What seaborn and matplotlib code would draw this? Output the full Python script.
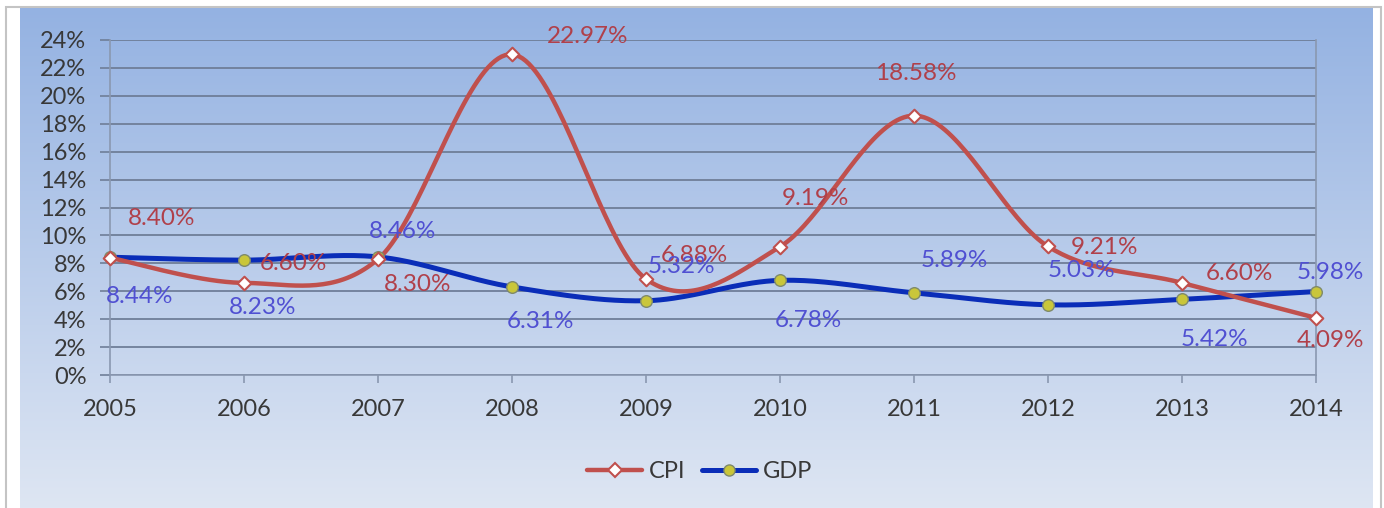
import numpy as np
import pandas as pd
import matplotlib
matplotlib.use("Agg")
import matplotlib.pyplot as plt
from matplotlib.lines import Line2D
from matplotlib.patches import Rectangle
from matplotlib.ticker import FuncFormatter
import seaborn as sns

# ---- data ----
years = [2005, 2006, 2007, 2008, 2009, 2010, 2011, 2012, 2013, 2014]
cpi = [8.40, 6.60, 8.30, 22.97, 6.88, 9.19, 18.58, 9.21, 6.60, 4.09]
gdp = [8.44, 8.23, 8.46, 6.31, 5.32, 6.78, 5.89, 5.03, 5.42, 5.98]
y_ticks = [0, 2, 4, 6, 8, 10, 12, 14, 16, 18, 20, 22, 24]

# label placement (pixel offsets from each point: right, up)
cpi_label_offsets = [(52, 39), (49, 19), (40, -25), (76, 18), (48, 23),
                     (35, 48), (2, 42), (56, -1), (57, 9), (14, -23)]
gdp_label_offsets = [(30, -39), (19, -47), (25, 25), (28, -35), (35, 34),
                     (28, -40), (40, 32), (33, 34), (32, -40), (14, 19)]

CPI_LINE = "#c0504d"
CPI_TEXT = "#b0404a"
GDP_LINE = "#0a2db8"
GDP_TEXT = "#5050d2"
GRID = "#6f7e98"
LABEL_SIZE = 17.5
TICK_SIZE = 17


def smooth_curve(xs, ys, n=40):
    """Bezier smoothing with Catmull-Rom style control points."""
    x = np.asarray(xs, float)
    y = np.asarray(ys, float)
    pts = np.column_stack([x, y])
    ext = np.vstack([pts[0], pts, pts[-1]])
    t = np.linspace(0, 1, n)[:, None]
    out = []
    for i in range(len(pts) - 1):
        p0, p1, p2, p3 = ext[i], ext[i + 1], ext[i + 2], ext[i + 3]
        b1 = p1 + (p2 - p0) / 6.0
        b2 = p2 - (p3 - p1) / 6.0
        seg = ((1 - t) ** 3) * p1 + 3 * ((1 - t) ** 2) * t * b1 \
            + 3 * (1 - t) * t ** 2 * b2 + t ** 3 * p2
        out.append(seg if i == 0 else seg[1:])
    arr = np.vstack(out)
    return arr[:, 0], arr[:, 1]


sns.set_theme(style="white")
plt.rcParams["font.family"] = ["Lato", "DejaVu Sans"]

W, H = 1384, 508
fig = plt.figure(figsize=(W / 100, H / 100), dpi=100)
fig.patch.set_facecolor("white")

# gradient backdrop on a pixel-space background axes
bg = fig.add_axes([0, 0, 1, 1], zorder=-10)
bg.axis("off")
gx0, gx1, gtop = 20, 1373, 8
gh = H - gtop
top_c = np.array([148, 178, 226]) / 255.0
bot_c = np.array([222, 230, 243]) / 255.0
ramp = np.linspace(0, 1, gh)[:, None, None]
grad = top_c * (1 - ramp) + bot_c * ramp
grad = np.broadcast_to(grad, (gh, gx1 - gx0, 3)).copy()
bg.imshow(grad, extent=(gx0, gx1, 0, gh), origin="upper", aspect="auto",
          interpolation="bilinear")
bg.add_patch(Rectangle((5.5, -20), 1381 - 5.5, H - 6.5 + 20, fill=False,
                       edgecolor="#c4c4c4", linewidth=1.5))
bg.set_xlim(0, W)
bg.set_ylim(0, H)

# plot area
left, right, top, bottom = 110, 1316, 40, 375
ax = fig.add_axes([left / W, (H - bottom) / H, (right - left) / W, (bottom - top) / H])
ax.set_facecolor("none")

df_cpi = pd.DataFrame(dict(zip(["x", "y"], smooth_curve(years, cpi))))
df_gdp = pd.DataFrame(dict(zip(["x", "y"], smooth_curve(years, gdp))))
sns.lineplot(data=df_gdp, x="x", y="y", ax=ax, sort=False, estimator=None,
             color=GDP_LINE, linewidth=3.6, zorder=3)
sns.lineplot(data=df_cpi, x="x", y="y", ax=ax, sort=False, estimator=None,
             color=CPI_LINE, linewidth=3.2, zorder=4)

pts = pd.DataFrame({"year": years, "cpi": cpi, "gdp": gdp})
sns.scatterplot(data=pts, x="year", y="gdp", ax=ax, marker="o", s=70,
                color="#c9c63a", edgecolor="#7f8a6a", linewidth=1.0, zorder=5,
                clip_on=False)
sns.scatterplot(data=pts, x="year", y="cpi", ax=ax, marker="D", s=48,
                color="white", edgecolor=CPI_LINE, linewidth=1.5, zorder=6,
                clip_on=False)

for xv, yv, (dx, dy) in zip(years, cpi, cpi_label_offsets):
    ax.annotate(f"{yv:.2f}%", (xv, yv), xytext=(dx, dy), textcoords="offset pixels",
                ha="center", va="center", fontsize=LABEL_SIZE, color=CPI_TEXT,
                annotation_clip=False, zorder=7)
for xv, yv, (dx, dy) in zip(years, gdp, gdp_label_offsets):
    ax.annotate(f"{yv:.2f}%", (xv, yv), xytext=(dx, dy), textcoords="offset pixels",
                ha="center", va="center", fontsize=LABEL_SIZE, color=GDP_TEXT,
                annotation_clip=False, zorder=7)

ax.set_xlim(years[0], years[-1])
ax.set_ylim(y_ticks[0], y_ticks[-1])
ax.set_xticks(years)
ax.set_yticks(y_ticks)
ax.yaxis.set_major_formatter(FuncFormatter(lambda v, p: f"{int(v)}%"))
ax.set_xlabel("")
ax.set_ylabel("")
ax.grid(axis="y", color=GRID, linewidth=1.3, zorder=1)
ax.grid(axis="x", visible=False)
ax.set_axisbelow(True)

for side in ["left", "right", "bottom"]:
    ax.spines[side].set_visible(True)
    ax.spines[side].set_color("#8a98b0")
    ax.spines[side].set_linewidth(1.2)
ax.spines["top"].set_visible(False)

ax.tick_params(axis="y", length=7, width=1.2, color=GRID, direction="out",
               labelsize=TICK_SIZE, labelcolor="#383838", pad=10, left=True)
ax.tick_params(axis="x", length=6, width=1.2, color="#8a98b0", direction="out",
               labelsize=TICK_SIZE, labelcolor="#383838", pad=11, bottom=True)

handles = [
    Line2D([], [], color=CPI_LINE, linewidth=3.2, marker="D", markersize=7,
           markerfacecolor="white", markeredgecolor=CPI_LINE, markeredgewidth=1.5),
    Line2D([], [], color=GDP_LINE, linewidth=3.6, marker="o", markersize=8,
           markerfacecolor="#c9c63a", markeredgecolor="#7f8a6a", markeredgewidth=1.0),
]
leg = fig.legend(handles, ["CPI", "GDP"], loc="center", ncol=2,
                 bbox_to_anchor=(700 / W, (H - 472) / H), frameon=False,
                 fontsize=TICK_SIZE, handlelength=2.3, handletextpad=0.3,
                 columnspacing=0.7)
for t in leg.get_texts():
    t.set_color("#383838")

fig.savefig("out.png", dpi=100)
